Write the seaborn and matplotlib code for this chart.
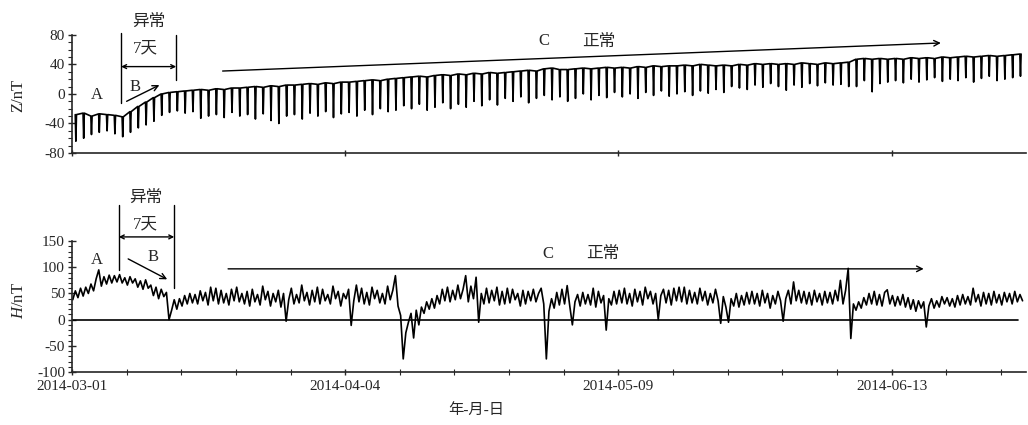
import numpy as np
import pandas as pd
import matplotlib
matplotlib.use("Agg")
import matplotlib.pyplot as plt
import seaborn as sns

# daily night level (top) and noon minimum (low) of Z, nT, day 0 = 2014-03-01
z_top = [-28, -26, -30, -27, -28, -29, -31,
         -24, -17, -11, -5, 0, 2, 3,
         4, 5, 6, 5, 7, 6, 8,
         8, 9, 10, 9, 11, 10, 12,
         12, 13, 14, 13, 15, 14, 16,
         16, 17, 18, 19, 18, 20, 21,
         22, 23, 24, 23, 25, 26, 25,
         27, 26, 28, 27, 29, 28, 29,
         30, 31, 32, 31, 34, 35, 33,
         33, 34, 35, 34, 35, 36, 35,
         36, 35, 37, 36, 38, 37, 38,
         38, 39, 38, 40, 39, 38, 39,
         38, 40, 39, 41, 40, 41, 40,
         41, 40, 42, 41, 40, 42, 41,
         42, 43, 47, 48, 47, 48, 47,
         48, 47, 49, 48, 49, 48, 50,
         49, 50, 51, 50, 51, 52, 51,
         52, 53, 54]
z_low = [-64, -60, -55, -52, -50, -54, -58,
         -52, -46, -42, -37, -29, -25, -23,
         -26, -24, -33, -30, -28, -32, -25,
         -30, -28, -34, -27, -36, -40, -30,
         -28, -34, -26, -30, -24, -32, -27,
         -25, -30, -22, -28, -20, -24, -22,
         -16, -20, -14, -22, -18, -12, -20,
         -14, -18, -10, -16, -8, -15, -6,
         -10, -4, -12, -6, -2, -8, -4,
         -10, -6, 0, -8, -2, -5, 2,
         -4, 0, -6, 2, -2, 4, -3,
         0, 3, -2, 4, 1, 6, 2,
         10, 8, 6, 12, 9, 14, 10,
         5, 12, 9, 14, 11, 15, 12,
         13, 10, 10, 18, 3, 14, 16,
         18, 15, 20, 16, 19, 22, 17,
         20, 18, 22, 16, 21, 24, 18,
         20, 22, 24]

# H, three readings per day, nT
h_vals = [38, 55, 42, 60, 45, 62, 50, 68, 55, 78, 95, 64, 82, 68, 85,
          70, 84, 72, 86, 70, 80, 66, 82, 70, 78, 62, 74, 58, 76, 60,
          66, 46, 62, 40, 58, 44, 52, 0, 18, 38, 20, 40, 26, 46, 30,
          50, 32, 48, 30, 55, 36, 52, 28, 62, 36, 60, 30, 56, 32, 50,
          28, 58, 36, 62, 34, 50, 30, 54, 26, 58, 34, 48, 28, 64, 38,
          54, 26, 50, 34, 56, 24, 50, -3, 38, 60, 30, 48, 32, 66, 36,
          52, 28, 56, 34, 62, 30, 58, 36, 48, 30, 64, 40, 54, 26, 50,
          40, 58, -11, 36, 66, 34, 60, 30, 52, 28, 62, 40, 56, 32, 50,
          30, 64, 38, 56, 84, 26, 8, -75, -25, -5, 12, -35, 18, -10, 24,
          12, 34, 20, 40, 22, 46, 30, 58, 36, 62, 34, 56, 38, 66, 40,
          58, 84, 34, 64, 40, 81, -5, 50, 30, 60, 32, 56, 36, 62, 28,
          54, 30, 60, 32, 58, 38, 50, 26, 56, 30, 54, 36, 58, 34, 50,
          60, 30, -75, 16, 40, 22, 52, 28, 58, 30, 65, 26, -10, 34, 48,
          26, 52, 30, 48, 28, 60, 24, 54, 32, 46, -20, 40, 28, 54, 30,
          56, 32, 60, 30, 50, 26, 58, 34, 54, 28, 62, 40, 54, 30, 50,
          0, 46, 58, 32, 56, 28, 60, 36, 62, 34, 62, 30, 56, 32, 52,
          30, 60, 36, 54, 28, 50, 32, 58, 36, -7, 44, 24, -5, 40, 26,
          50, 24, 46, 28, 52, 30, 54, 30, 50, 26, 56, 32, 50, 22, 46,
          30, 54, 36, -3, 40, 56, 30, 72, 36, 56, 32, 54, 30, 52, 28,
          56, 34, 50, 28, 54, 32, 52, 30, 56, 36, 75, 30, 56, 98, -36,
          30, 18, 34, 22, 42, 28, 50, 30, 54, 28, 48, 26, 52, 57, 30,
          46, 26, 44, 28, 48, 24, 42, 20, 38, 16, 36, 22, 34, -14, 26,
          40, 22, 36, 24, 44, 30, 42, 26, 40, 24, 46, 28, 48, 30, 44,
          28, 60, 34, 48, 26, 52, 30, 50, 28, 54, 32, 48, 28, 52, 34,
          50, 30, 54, 34, 48, 36]

tick_days = [0, 35, 70, 105]
tick_labels = ["2014-03-01", "2014-04-04", "2014-05-09", "2014-06-13"]

sns.set_style("ticks")
plt.rcParams['font.family'] = ['Liberation Serif', 'Noto Sans CJK SC']
plt.rcParams['mathtext.fontset'] = 'custom'
plt.rcParams['mathtext.it'] = 'Liberation Serif:italic'
plt.rcParams['mathtext.rm'] = 'Liberation Serif'
plt.rcParams['axes.unicode_minus'] = False

# build the Z series: flat night level, sharp dip near noon
days = np.arange(len(z_top))
z_df = pd.DataFrame({
    "t": np.column_stack([days + 0.42, days + 0.5, days + 0.58]).ravel(),
    "z": np.column_stack([z_top, z_low, z_top]).ravel(),
})
h_df = pd.DataFrame({
    "t": np.arange(len(h_vals)) / 3.0 + 0.1,
    "h": h_vals,
})

fig = plt.figure(figsize=(10.28, 4.25), dpi=100)
ax1 = fig.add_axes([0.070, 0.640, 0.928, 0.278])
ax2 = fig.add_axes([0.070, 0.1247, 0.928, 0.308])

sns.lineplot(data=z_df, x="t", y="z", ax=ax1, color="black", lw=1.2, sort=False)
sns.lineplot(data=h_df, x="t", y="h", ax=ax2, color="black", lw=1.2, sort=False)

for ax in (ax1, ax2):
    ax.set_xlim(0, 122.2)
    ax.set_xlabel("")
    ax.set_ylabel("")
    sns.despine(ax=ax)
    for s in ("left", "bottom"):
        ax.spines[s].set_linewidth(1.2)
    ax.tick_params(axis="y", which="major", direction="inout", length=6, width=1, labelsize=11, pad=2)
    ax.tick_params(axis="y", which="minor", direction="out", length=3, width=0.8)
    ax.tick_params(axis="x", which="major", direction="inout", length=5, width=1, labelsize=11)
    ax.tick_params(axis="x", which="minor", direction="inout", length=4, width=0.8)

ax1.set_ylim(-80, 80)
ax1.set_yticks([-80, -40, 0, 40, 80])
ax1.set_yticks(np.arange(-80, 81, 10), minor=True)
ax1.set_xticks(tick_days)
ax1.set_xticklabels([])

ax2.set_ylim(-100, 150)
ax2.set_yticks([-100, -50, 0, 50, 100, 150])
ax2.set_yticks(np.arange(-100, 151, 10), minor=True)
ax2.set_xticks(tick_days)
ax2.set_xticklabels(tick_labels)
ax2.set_xticks(np.arange(0, 123, 7), minor=True)
ax2.axhline(0, xmin=0, xmax=0.992, color="black", lw=1.2)

fig.text(0.018, 0.776, "Z/nT", rotation=90, ha="center", va="center", fontsize=12)
fig.text(0.018, 0.294, r"$H$/nT", rotation=90, ha="center", va="center", fontsize=12)
fig.text(0.463, 0.035, "年-月-日", ha="center", va="center", fontsize=11)

lk = dict(color="black", lw=1.0, clip_on=False)
ak = dict(arrowstyle="->", color="black", lw=1.0, shrinkA=0, shrinkB=0)
dk = dict(arrowstyle="<->", color="black", lw=1.0, shrinkA=0, shrinkB=0, mutation_scale=7)

# top panel notes
ax1.text(9.8, 98, "异常", ha="center", va="center", fontsize=12)
ax1.text(9.4, 62, "7天", ha="center", va="center", fontsize=12)
ax1.plot([6.3, 6.3], [83, -12], **lk)
ax1.plot([13.35, 13.35], [80, 19], **lk)
ax1.annotate("", xy=(13.35, 37), xytext=(6.3, 37), arrowprops=dk, annotation_clip=False)
ax1.text(3.2, -2, "A", ha="center", va="center", fontsize=12)
ax1.text(8.1, 9, "B", ha="center", va="center", fontsize=12)
ax1.annotate("", xy=(11.2, 12), xytext=(7.0, -10), arrowprops=ak, annotation_clip=False)
ax1.annotate("", xy=(111.3, 69), xytext=(19.3, 31), arrowprops=ak, annotation_clip=False)
ax1.text(60.5, 71, "C", ha="center", va="center", fontsize=12)
ax1.text(67.5, 71, "正常", ha="center", va="center", fontsize=12)

# bottom panel notes
ax2.text(9.4, 232, "异常", ha="center", va="center", fontsize=12)
ax2.text(9.4, 181, "7天", ha="center", va="center", fontsize=12)
ax2.plot([6.0, 6.0], [219, 95], **lk)
ax2.plot([13.1, 13.1], [219, 60], **lk)
ax2.annotate("", xy=(13.1, 158), xytext=(6.0, 158), arrowprops=dk, annotation_clip=False)
ax2.text(3.2, 114, "A", ha="center", va="center", fontsize=12)
ax2.text(10.4, 119, "B", ha="center", va="center", fontsize=12)
ax2.annotate("", xy=(12.2, 77), xytext=(7.2, 116), arrowprops=ak, annotation_clip=False)
ax2.annotate("", xy=(109.1, 97), xytext=(20.0, 97), arrowprops=ak, annotation_clip=False)
ax2.text(61.0, 125, "C", ha="center", va="center", fontsize=12)
ax2.text(68.0, 125, "正常", ha="center", va="center", fontsize=12)

fig.savefig("out.png", dpi=100)
